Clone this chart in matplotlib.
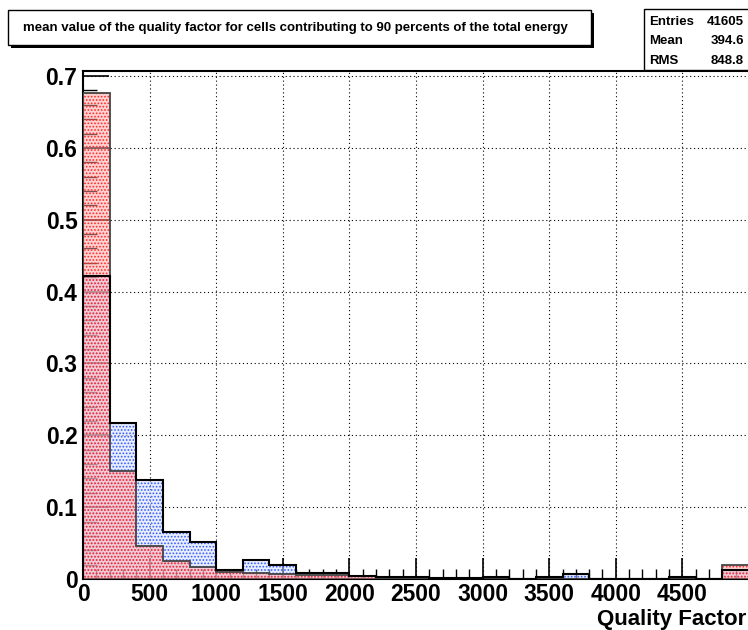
import numpy as np
import matplotlib.pyplot as plt
from matplotlib.patches import Rectangle
from matplotlib.ticker import MultipleLocator

plt.rcParams['font.family'] = ['Liberation Sans', 'DejaVu Sans']
plt.rcParams['hatch.linewidth'] = 0.8

# histogram data (normalised), 25 bins of width 200 from 0 to 5000
bin_edges = np.arange(0, 5001, 200)
blue_vals = [0.421, 0.217, 0.138, 0.066, 0.052, 0.012, 0.026, 0.019, 0.0077, 0.0077,
             0.004, 0.0025, 0.0025, 0.0015, 0.0015, 0.0025, 0.0, 0.003, 0.0075, 0.0,
             0.0, 0.0, 0.003, 0.0, 0.013]
red_vals = [0.676, 0.150, 0.0457, 0.0255, 0.017, 0.0095, 0.009, 0.0075, 0.006, 0.005,
            0.0035, 0.002, 0.002, 0.001, 0.001, 0.0, 0.0, 0.0, 0.0, 0.0,
            0.0, 0.0, 0.0, 0.0, 0.020]

title_text = "mean value of the quality factor for cells contributing to 90 percents of the total energy"
stats_names = ["Entries", "Mean", "RMS"]
stats_values = ["41605", "394.6", "848.8"]
x_label = "Quality Factor"

W, H = 748, 630
fig = plt.figure(figsize=(W / 100, H / 100), dpi=100)


def fx(px):
    return px / W


def fy(py):
    return 1 - py / H


ax = fig.add_axes([fx(83), fy(579), (749 - 83) / W, (579 - 71) / H])

# fills (dotted pattern like ROOT fill style)
ax.stairs(blue_vals, bin_edges, fill=True, facecolor=(0.82, 0.87, 1.0, 0.5),
          edgecolor='#3a5cff', hatch='.....', linewidth=0, zorder=2)
ax.stairs(red_vals, bin_edges, fill=True, facecolor=(1.0, 0.65, 0.65, 0.5),
          edgecolor='#ff2a2a', hatch='.....', linewidth=0, zorder=3)

# outlines
ax.stairs(red_vals, bin_edges, baseline=0, color='#444444', linewidth=1.3, zorder=4)
ax.stairs(blue_vals, bin_edges, baseline=0, color='black', linewidth=1.5, zorder=5)

ax.set_xlim(0, 5000)
ax.set_ylim(0, 0.707)

ax.xaxis.set_major_locator(MultipleLocator(500))
ax.xaxis.set_minor_locator(MultipleLocator(100))
ax.yaxis.set_major_locator(MultipleLocator(0.1))
ax.yaxis.set_minor_locator(MultipleLocator(0.02))

ax.tick_params(axis='x', which='major', direction='in', length=15, width=1.2, pad=3)
ax.tick_params(axis='x', which='minor', direction='in', length=7.5, width=1.0)
ax.tick_params(axis='y', which='major', direction='in', length=19, width=1.2, pad=4)
ax.tick_params(axis='y', which='minor', direction='in', length=10, width=1.0)

xt = np.arange(0, 5000, 500)
ax.set_xticks(xt)
ax.set_xticklabels([str(v) for v in xt], fontsize=16.5, fontweight='bold')
yt = np.arange(0, 0.71, 0.1)
ax.set_yticks(yt)
ax.set_yticklabels(['0'] + ['%.1f' % v for v in yt[1:]], fontsize=16.5, fontweight='bold')

ax.grid(True, which='major', color='black', linestyle=(0, (1, 2.5)), linewidth=0.8)
ax.set_axisbelow(True)
for sp in ax.spines.values():
    sp.set_linewidth(1.5)

# x axis title, right aligned at the canvas edge
fig.text(fx(746), fy(619.5), x_label, fontsize=16, fontweight='bold',
         ha='right', va='center')

# title box with shadow
fig.add_artist(Rectangle((fx(11), fy(48)), fx(583), 35 / H, transform=fig.transFigure,
                         facecolor='black', edgecolor='none'))
fig.add_artist(Rectangle((fx(8), fy(45)), fx(583), 35 / H, transform=fig.transFigure,
                         facecolor='white', edgecolor='black', linewidth=1.0))
fig.text(fx(295), fy(27.5), title_text, fontsize=9.5, fontweight='bold',
         ha='center', va='center')

# stats box with shadow
fig.add_artist(Rectangle((fx(646), fy(72)), fx(110), 61 / H, transform=fig.transFigure,
                         facecolor='black', edgecolor='none'))
fig.add_artist(Rectangle((fx(644), fy(70)), fx(110), 61 / H, transform=fig.transFigure,
                         facecolor='white', edgecolor='black', linewidth=1.0))
for i, (n, v) in enumerate(zip(stats_names, stats_values)):
    yy = 21.7 + i * 19.7
    fig.text(fx(649), fy(yy), n, fontsize=9.5, fontweight='bold', ha='left', va='center')
    fig.text(fx(744), fy(yy), v, fontsize=9.5, fontweight='bold', ha='right', va='center')

fig.savefig('out.png', dpi=100)
